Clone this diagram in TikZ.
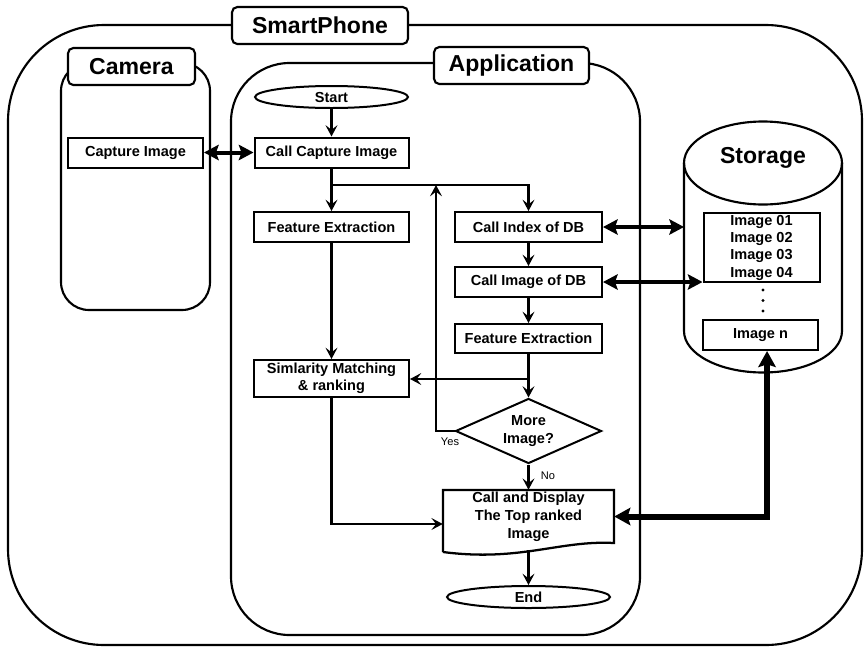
\documentclass[tikz,border=0pt]{standalone}
\usepackage{fontspec}
\setmainfont{Liberation Sans}
\usetikzlibrary{arrows.meta,shapes.geometric,calc}
\begin{document}
\begin{tikzpicture}[x=0.75pt,y=-0.75pt,
  lw/.style={line width=1.7pt},
  frame/.style={draw, line width=1.6pt},
  title/.style={draw, fill=white, line width=1.6pt, rounded corners=4pt, inner sep=0pt,
    minimum height=27.75pt, font=\bfseries\fontsize{17.3}{20}\selectfont},
  box/.style={draw, line width=1.5pt, inner sep=0pt, align=center,
    font=\bfseries\fontsize{10.9}{13}\selectfont},
  term/.style={box, ellipse},
  arr/.style={line width=1.7pt, -{Stealth[length=8.5pt,width=9pt,inset=3.5pt]}},
  big/.style={line width=3pt, {Stealth[length=11pt,width=11.5pt,inset=2pt]}-{Stealth[length=11pt,width=11.5pt,inset=2pt]}},
  huge/.style={line width=4.5pt, {Stealth[length=12pt,width=13pt,inset=2pt]}-{Stealth[length=12pt,width=13pt,inset=2pt]}},
  lab/.style={font=\fontsize{8.3}{9}\selectfont}
]
\useasboundingbox (0,0) rectangle (864,647);
% frames
\draw[frame, rounded corners=72pt] (8,25) rectangle (862,645);
\draw[frame, rounded corners=21pt] (61,63) rectangle (210,310);
\draw[frame, rounded corners=44pt] (231,63) rectangle (640,635);
% titles
\node[title, minimum width=132pt] (sp) at (320,25.5) {SmartPhone};
\node[title, minimum width=95.25pt] (cam) at (131.5,66.5) {Camera};
\node[title, minimum width=116.25pt] (app) at (511.5,65.5) {Application};
% storage cylinder
\draw[frame] (684,163) -- (684,331) arc[start angle=180,end angle=0,x radius=79,y radius=41.5] -- (842,163);
\draw[frame] (763,163) ellipse [x radius=79, y radius=41.5];
\node[font=\bfseries\fontsize{17.3}{20}\selectfont] (stor) at (763,158) {Storage};
\node[box, minimum width=87pt, minimum height=51.75pt] (imglist) at (761.5,247.5) {Image 01\\Image 02\\Image 03\\Image 04};
\foreach \yy in {290,300.5,311} \fill (763,\yy) circle[radius=1.7];
\node[box, minimum width=86.25pt, minimum height=22.5pt] (imgn) at (760.5,335) {Image n};
\coordinate (cylL) at (684,227);
% camera
\node[box, minimum width=101.25pt, minimum height=22.5pt] (capture) at (135.5,152.5) {Capture Image};
% application flow
\node[term, minimum width=114.75pt, minimum height=16.5pt] (start) at (331.5,97) {Start};
\node[box, minimum width=115.5pt, minimum height=22.5pt] (callcap) at (331.5,152.5) {Call Capture Image};
\node[box, minimum width=116.25pt, minimum height=22.5pt] (fel) at (331.5,227) {Feature Extraction};
\node[box, minimum width=110.25pt, minimum height=22.5pt] (cidx) at (528.5,227) {Call Index of DB};
\node[box, minimum width=110.25pt, minimum height=22.5pt] (cimg) at (528.5,282) {Call Image of DB};
\node[box, minimum width=110.25pt, minimum height=21.75pt] (fer) at (528.5,338.5) {Feature Extraction};
\node[box, minimum width=116.25pt, minimum height=27.75pt, font=\bfseries\fontsize{10.9}{12.5}\selectfont] (sim) at (331.5,378.5) {Simlarity Matching\\\& ranking};
\node[box, diamond, aspect=2.25, minimum width=109.5pt, minimum height=48.75pt] (dia) at (528.5,431) {More\\Image?};
\node[inner sep=0pt, minimum width=128.25pt, minimum height=39.75pt, align=center,
  font=\bfseries\fontsize{10.9}{13.5}\selectfont] (cad) at (528.5,516.5) {Call and Display\\The Top ranked\\Image};
\draw[lw] (443,552) -- (443,490) -- (614,490) -- (614,543) .. controls (560,540) and (520,562) .. (443,552);
\node[term, minimum width=122.25pt, minimum height=16.5pt] (end) at (528.5,597) {End};
\coordinate (j) at (436,185);
\coordinate (k) at (528.5,379);
% connectors
\draw[arr] (start) -- (callcap);
\draw[arr] (callcap) -- (fel);
\draw[lw] (callcap.south |- j) -- (j);
\draw[arr] (j) -| (cidx.north);
\draw[arr] (cidx) -- (cimg);
\draw[arr] (cimg) -- (fer);
\draw[arr] (fer) -- (dia);
\draw[arr] (k) -- (k -| sim.east);
\draw[arr] (fel) -- (sim);
\draw[arr] (dia.west) -| (j);
\draw[arr] (sim.south) |- ($(cad.west)+(0,7.5)$);
\draw[arr] (dia.south) -- (cad.north);
\draw[arr] ($(cad.south)+(0,7)$) -- (end.north);
\node[lab] (yes) at (450,442) {Yes};
\node[lab] (no) at (548,476) {No};
\draw[big] (capture.east) -- (callcap.west);
\draw[big] (cidx.east) -- (cylL);
\draw[big] (cimg.east) -- (cimg.east -| imglist.west);
\draw[huge] ([xshift=4.9pt]imgn.south) |- (cad.east);
\end{tikzpicture}
\end{document}
